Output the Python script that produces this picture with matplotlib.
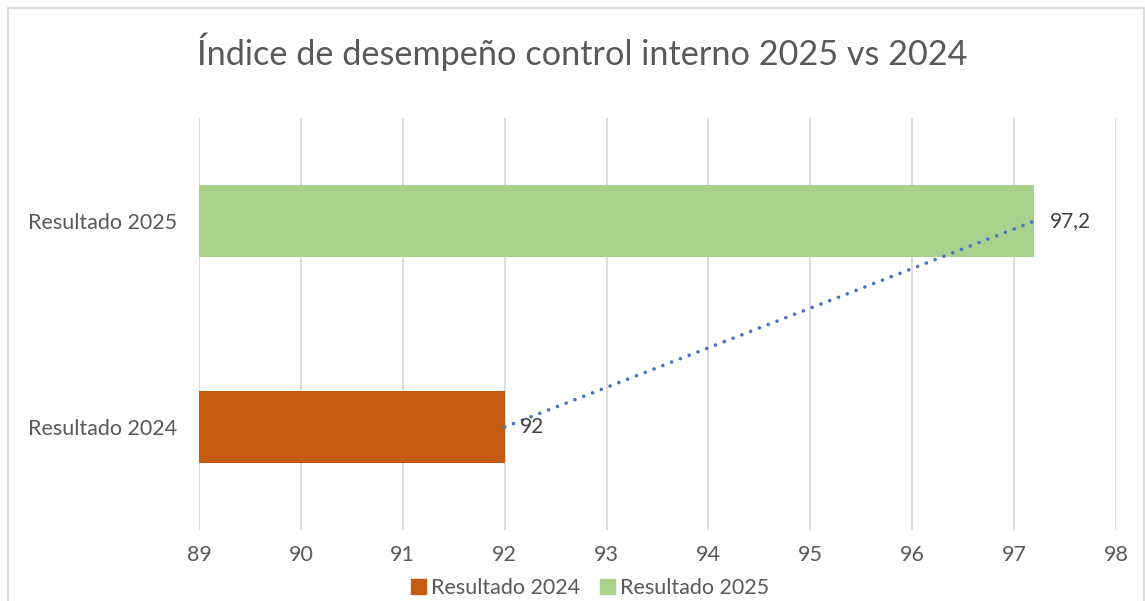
import matplotlib
matplotlib.use('Agg')
import matplotlib.pyplot as plt
from matplotlib.patches import Rectangle

# data
categories = ['Resultado 2024', 'Resultado 2025']
values = [92, 97.2]
labels = ['92', '97,2']
colors = ['#C55A11', '#A9D18E']
xticks = [89, 90, 91, 92, 93, 94, 95, 96, 97, 98]

plt.rcParams['font.family'] = ['Lato', 'DejaVu Sans']
W, H = 1145, 601
fig = plt.figure(figsize=(W / 100, H / 100), dpi=100)
ax = fig.add_axes([199 / W, 1 - 530 / H, (1116 - 199) / W, (530 - 118) / H])

ax.barh([0, 1], [v - 89 for v in values], left=89, height=0.35, color=colors, zorder=2)
ax.plot(values, [0, 1], ls=(0, (0.01, 2.6)), lw=2.6, color='#4472C4', zorder=3,
        dash_capstyle='round', solid_capstyle='round')
ax.text(values[0] + 0.15, 0, labels[0], va='center', ha='left', fontsize=15, color='#404040', zorder=4)
ax.text(values[1] + 0.15, 1, labels[1], va='center', ha='left', fontsize=15, color='#404040', zorder=4)

ax.set_xlim(89, 98)
ax.set_ylim(-0.5, 1.5)
ax.set_xticks(xticks)
ax.set_xticklabels([str(t) for t in xticks])
ax.set_yticks([0, 1])
ax.set_yticklabels(categories)
ax.tick_params(length=0, labelsize=15.5, labelcolor='#595959')
ax.tick_params(axis='x', pad=11)
ax.tick_params(axis='y', labelsize=15.5, pad=16)
ax.grid(axis='x', color='#D9D9D9', lw=1.3, zorder=0)
for s in ax.spines.values():
    s.set_visible(False)

fig.text(582 / W, 1 - 52 / H, 'Índice de desempeño control interno 2025 vs 2024',
         ha='center', va='center', fontsize=24.7, color='#595959')

fig.patches.append(Rectangle((8 / W, -0.1), (W - 9) / W, 1 - 8 / H + 0.1,
                             transform=fig.transFigure, fill=False,
                             edgecolor='#D9D9D9', lw=1.3))

handles = [Rectangle((0, 0), 1, 1, color=c) for c in colors]
fig.legend(handles, categories, loc='center', bbox_to_anchor=(590 / W, 1 - 588 / H),
           ncol=2, frameon=False, fontsize=15.5, labelcolor='#595959',
           handlelength=0.7, handleheight=0.7, handletextpad=0.25, columnspacing=0.9)

fig.savefig('out.png', dpi=100, facecolor='white')
